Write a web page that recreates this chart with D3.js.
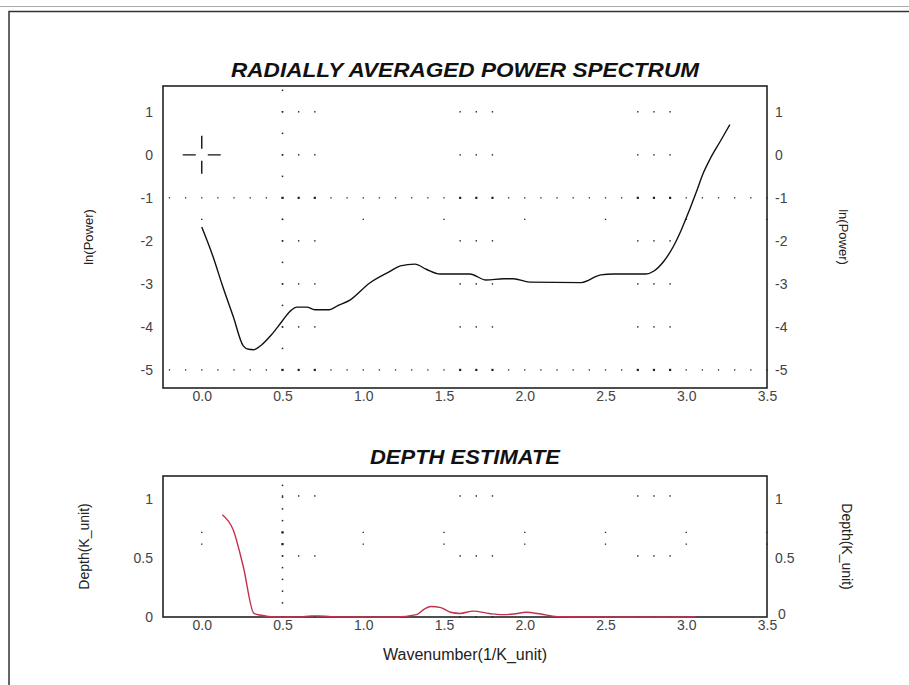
<!DOCTYPE html>
<html>
<head>
<meta charset="utf-8">
<script src="https://d3js.org/d3.v7.min.js"></script>
<style>
  body { margin: 0; background: #fff; }
  text { font-family: "Liberation Sans", Arial, sans-serif; }
</style>
</head>
<body>
<svg width="909" height="685"></svg>
<script>
// wavenumber / ln(power)
var powerK = [0.0, 0.07, 0.13, 0.195, 0.257, 0.29, 0.32, 0.37, 0.43, 0.495, 0.546, 0.59, 0.65, 0.70, 0.79, 0.84,
  0.92, 1.04, 1.165, 1.23, 1.32, 1.39, 1.475, 1.66, 1.76, 1.87, 1.93, 2.03, 2.35, 2.47, 2.55, 2.67, 2.75,
  2.80, 2.86, 2.92, 2.97, 3.02, 3.06, 3.105, 3.15, 3.21, 3.27];
var lnPower = [-1.68, -2.37, -3.06, -3.76, -4.44, -4.52, -4.53, -4.42, -4.19, -3.88, -3.64, -3.54, -3.54, -3.60, -3.60, -3.51,
  -3.37, -2.98, -2.71, -2.58, -2.54, -2.66, -2.77, -2.77, -2.91, -2.88, -2.88, -2.96, -2.97, -2.79, -2.77, -2.77, -2.77,
  -2.70, -2.48, -2.13, -1.74, -1.28, -0.89, -0.43, -0.08, 0.31, 0.70];

// depth estimate (red curve)
var depthK = [0.127, 0.195, 0.257, 0.323, 0.36, 0.45, 0.6, 0.68, 0.72, 0.8, 1.0, 1.2, 1.33, 1.38, 1.42, 1.48,
  1.54, 1.6, 1.68, 1.78, 1.85, 1.93, 2.01, 2.1, 2.2, 2.5, 2.8, 3.06];
var depthVal = [0.87, 0.74, 0.43, 0.03, 0.017, 0.0, 0.0, 0.01, 0.01, 0.003, 0, 0, 0.02, 0.07, 0.09, 0.08,
  0.04, 0.03, 0.05, 0.03, 0.02, 0.025, 0.04, 0.025, 0.003, 0, 0, 0];

var xTicks = [0.0, 0.5, 1.0, 1.5, 2.0, 2.5, 3.0, 3.5];
var powerTicks = [-5, -4, -3, -2, -1, 0, 1];
var depthTicks = [0, 0.5, 1];

// the odd dotted marks the program draws inside the plots
var clusterX = [0.5, 0.6, 0.7, 1.6, 1.7, 1.8, 2.7, 2.8, 2.9];
var topRowsY = [-1, -5];
var topSparseRowY = -1.5;
var botRowsY = [0.72, 0.62];
var botClusterY = [1.03, 0.52, 0];

var svg = d3.select("svg");
var W = +svg.attr("width"), H = +svg.attr("height");

svg.append("rect").attr("width", W).attr("height", H).attr("fill", "#fff");

// window frame
svg.append("line").attr("x1", 0).attr("x2", W).attr("y1", 6.5).attr("y2", 6.5)
  .attr("stroke", "#aaa").attr("stroke-width", 1);
svg.append("path").attr("d", "M9,685V11.5H909")
  .attr("fill", "none").attr("stroke", "#333").attr("stroke-width", 1.5);

var x = d3.scaleLinear().domain([-0.24, 3.5]).range([163, 767]);
var yP = d3.scaleLinear().domain([-5.42, 1.6]).range([388, 86]);
var yD = d3.scaleLinear().domain([0, 1.2]).range([617, 476]);

function fmt1(d) { return d3.format(".1f")(d).replace("\u2212", "-"); }
function fmtP(d) { return String(d); }
function fmtD(d) { return String(d); }

function dot(g, px, py, s) {
  g.append("rect").attr("x", px - s / 2).attr("y", py - s / 2)
    .attr("width", s).attr("height", s).attr("fill", "#222");
}

function axes(y, ticks, tf, label, labelFont, title, titleY, titleLen) {
  var top = y.range()[1], bottom = y.range()[0];

  svg.append("text").attr("x", 465).attr("y", titleY)
    .attr("text-anchor", "middle")
    .attr("font-size", 21).attr("font-weight", "bold").attr("font-style", "italic")
    .attr("textLength", titleLen).attr("lengthAdjust", "spacingAndGlyphs")
    .attr("fill", "#111").text(title);

  var gx = svg.append("g").attr("transform", "translate(0," + bottom + ")")
    .call(d3.axisBottom(x).tickValues(xTicks).tickFormat(fmt1).tickSize(0).tickPadding(3));
  var gl = svg.append("g").attr("transform", "translate(163,0)")
    .call(d3.axisLeft(y).tickValues(ticks).tickFormat(tf).tickSize(0).tickPadding(10));
  var gr = svg.append("g").attr("transform", "translate(767,0)")
    .call(d3.axisRight(y).tickValues(ticks).tickFormat(tf).tickSize(0).tickPadding(8));
  [gx, gl, gr].forEach(function (g) {
    g.select(".domain").remove();
    g.selectAll("text").attr("font-size", 14).attr("fill", "#444")
      .style("font-family", '"Liberation Sans", Arial, sans-serif');
  });
  // the corner "0" sits just right of and above the last wavenumber label
  gr.selectAll(".tick").filter(function (d) { return d === 0 && y === yD; })
    .select("text").attr("x", 11).attr("dy", "0.1em");

  svg.append("rect").attr("x", 163).attr("y", top)
    .attr("width", 767 - 163).attr("height", bottom - top)
    .attr("fill", "none").attr("stroke", "#222").attr("stroke-width", 1.6);

  var mid = (top + bottom) / 2;
  svg.append("text").attr("transform", "translate(" + (label === "ln(Power)" ? 93 : 89) + "," + mid + ") rotate(-90)")
    .attr("text-anchor", "middle").attr("font-size", labelFont).attr("fill", "#222").text(label);
  svg.append("text").attr("transform", "translate(" + (label === "ln(Power)" ? 839 : 842) + "," + mid + ") rotate(90)")
    .attr("text-anchor", "middle").attr("font-size", labelFont).attr("fill", "#222").text(label);
}

axes(yP, powerTicks, fmtP, "ln(Power)", 13, "RADIALLY AVERAGED POWER SPECTRUM", 77, 468);
axes(yD, depthTicks, fmtD, "Depth(K_unit)", 14, "DEPTH ESTIMATE", 464, 190);

svg.append("text").attr("x", 465).attr("y", 660).attr("text-anchor", "middle")
  .attr("font-size", 16).attr("fill", "#222").text("Wavenumber(1/K_unit)");

// dotted marks, top plot
var gd = svg.append("g");
var rowX = d3.range(-2, 36).map(function (i) { return i / 10; });
topRowsY.forEach(function (v) {
  rowX.forEach(function (k) {
    var big = clusterX.some(function (c) { return Math.abs(c - k) < 1e-6; });
    dot(gd, x(k), yP(v), big ? 2.2 : 1.3);
  });
});
xTicks.forEach(function (k) { dot(gd, x(k), yP(topSparseRowY), 1.3); });
d3.range(-10, 4).forEach(function (i) { dot(gd, x(0.5), yP(i / 2), 1.5); });
clusterX.forEach(function (k) {
  powerTicks.forEach(function (v) {
    if (v !== -1 && v !== -5) dot(gd, x(k), yP(v), 1.4);
  });
});

// dotted marks, bottom plot
d3.range(1, 12).forEach(function (i) { dot(gd, x(0.5), yD(i / 10 + 0.02), 1.5); });
clusterX.forEach(function (k) {
  botClusterY.forEach(function (v) { dot(gd, x(k), yD(v), 1.4); });
});
xTicks.forEach(function (k) {
  botRowsY.forEach(function (v) { dot(gd, x(k), yD(v), k === 0.5 ? 2.2 : 1.3); });
});

// crosshair at the origin
var cx = x(0), cy = yP(0);
svg.append("path")
  .attr("d", "M" + (cx - 19) + "," + cy + "H" + (cx - 6) + "M" + (cx + 6) + "," + cy + "H" + (cx + 19) +
             "M" + cx + "," + (cy - 19) + "V" + (cy - 6) + "M" + cx + "," + (cy + 6) + "V" + (cy + 19))
  .attr("stroke", "#111").attr("stroke-width", 1.4).attr("fill", "none");

// curves
var powerLine = d3.line().x(function (d, i) { return x(powerK[i]); })
  .y(function (d) { return yP(d); }).curve(d3.curveMonotoneX);
svg.append("path").datum(lnPower).attr("d", powerLine)
  .attr("fill", "none").attr("stroke", "#111").attr("stroke-width", 1.4);

var depthLine = d3.line().x(function (d, i) { return x(depthK[i]); })
  .y(function (d) { return yD(d); }).curve(d3.curveMonotoneX);
svg.append("path").datum(depthVal).attr("d", depthLine)
  .attr("fill", "none").attr("stroke", "#c4304c").attr("stroke-width", 1.4);
</script>
</body>
</html>
